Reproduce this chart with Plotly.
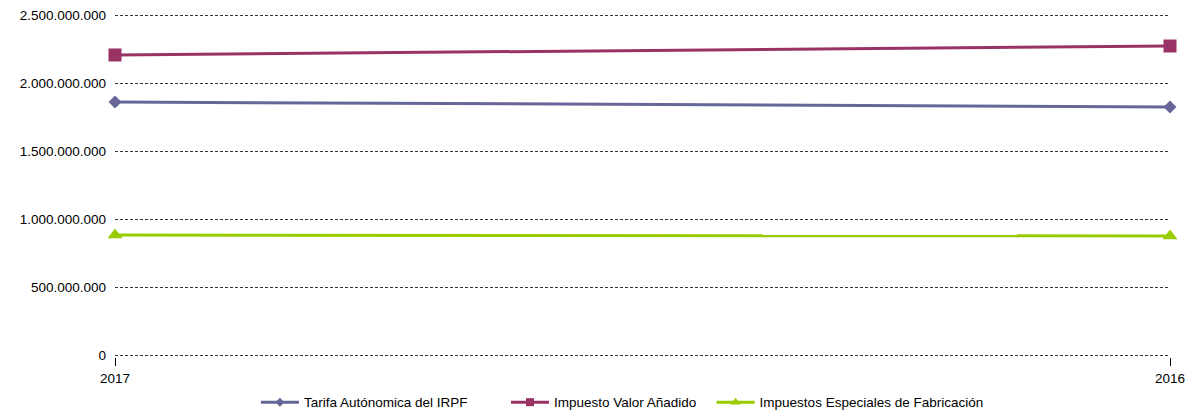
import plotly.graph_objects as go

years = ["2017", "2016"]
tarifa_irpf = [1860000000, 1824000000]
iva = [2206000000, 2272000000]
especiales = [882000000, 875000000]

series = [
    ("Tarifa Autónomica del IRPF", tarifa_irpf, "#666699", "diamond", 10, 7, "legend", 0.1336),
    ("Impuesto Valor Añadido", iva, "#993366", "square", 13, 8, "legend2", 0.3706),
    ("Impuestos Especiales de Fabricación", especiales, "#99CC00", "triangle-up", 13, 9, "legend3", 0.5655),
]

fig = go.Figure()
legends = {}
for name, vals, color, sym, sz, lsz, leg, lx in series:
    # data trace
    fig.add_trace(go.Scatter(
        x=[0, 1], y=vals, name=name, mode="lines+markers",
        line=dict(color=color, width=3),
        marker=dict(symbol=sym, size=sz, color=color),
        cliponaxis=False, showlegend=False,
    ))
    # legend entry with small marker as in the reference
    fig.add_trace(go.Scatter(
        x=[None], y=[None], name=name, mode="lines+markers",
        line=dict(color=color, width=3),
        marker=dict(symbol=sym, size=lsz, color=color),
        legend=leg, showlegend=True, hoverinfo="skip",
    ))
    legends[leg] = dict(orientation="h", x=lx, xanchor="left", y=-0.132, yanchor="middle",
                        font=dict(size=13.5, color="#000"), itemwidth=38,
                        bgcolor="rgba(0,0,0,0)")

fig.update_layout(
    width=1191, height=414,
    margin=dict(l=115, r=21, t=13, b=57, autoexpand=False),
    plot_bgcolor="white", paper_bgcolor="white",
    separators=",.",
    font=dict(family="Liberation Sans, Arial, sans-serif", size=12, color="#000"),
    showlegend=True,
    xaxis=dict(
        range=[0, 1], tickmode="array", tickvals=[0, 1], ticktext=years,
        showgrid=False, zeroline=False, showline=False, automargin=False,
        ticks="outside", ticklen=8, tickcolor="#000", tickwidth=1,
        ticklabelstandoff=1,
        tickfont=dict(size=13.5, color="#000"),
    ),
    yaxis=dict(
        range=[-14700000, 2514700000],
        tickvals=[0, 500000000, 1000000000, 1500000000, 2000000000, 2500000000],
        tickformat=",d", automargin=False,
        showgrid=True, gridcolor="#333", griddash="3px,2px", gridwidth=1,
        zeroline=False, showline=False, ticks="", ticklen=0, ticklabelstandoff=8,
        tickfont=dict(size=13.5, color="#000"),
    ),
    **legends,
)

fig.write_html("out.html", config={"displayModeBar": False},
               post_script="document.body.style.margin='0';document.body.style.overflow='hidden';")
